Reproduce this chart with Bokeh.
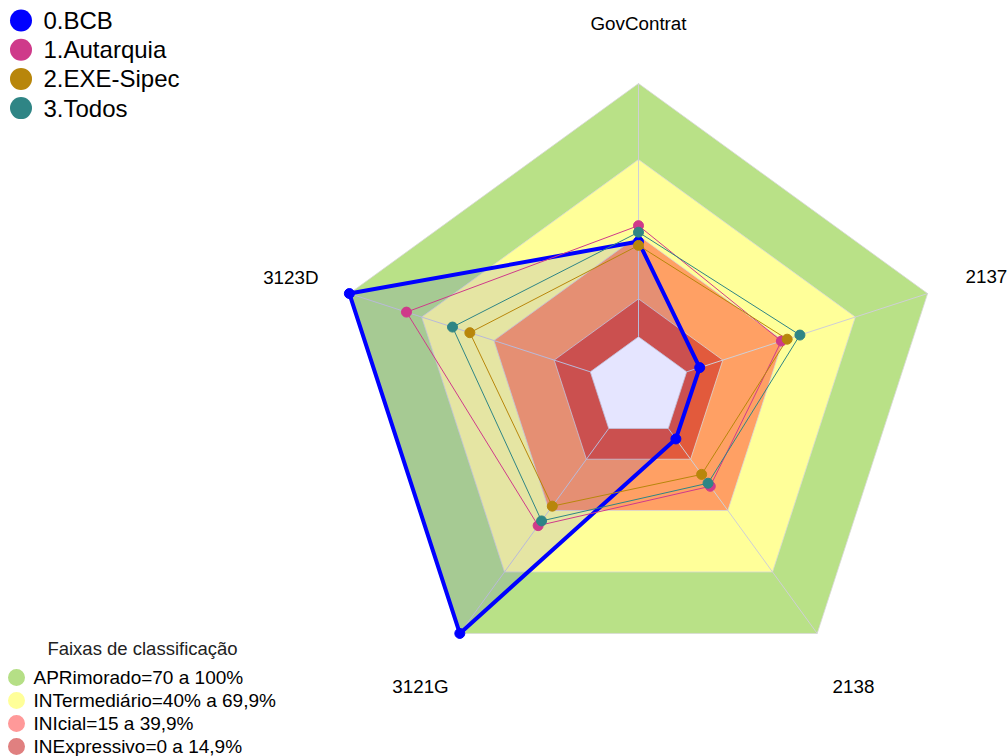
import numpy as np
from bokeh.plotting import figure
from bokeh.models import Range1d
from bokeh.embed import file_html
from bokeh.resources import INLINE
from bokeh.core.properties import value

# ---------------- data ----------------
axis_labels = ["GovContrat", "2137", "2138", "3121G", "3123D"]
series_names = ["0.BCB", "1.Autarquia", "2.EXE-Sipec", "3.Todos"]
bcb = [37.6, 5.4, 5.1, 100.0, 100.0]
autarquia = [43.9, 39.3, 28.2, 47.4, 76.3]
exe_sipec = [36.1, 41.7, 22.4, 37.9, 50.0]
todos = [41.3, 47.0, 26.7, 45.1, 57.2]
band_limits = [100, 70, 40, 15, 0]
band_labels = ["APRimorado=70 a 100%", "INTermediário=40% a 69,9%",
               "INIcial=15 a 39,9%", "INExpressivo=0 a 14,9%"]
legend_title = "Faixas de classificação"

# ---------------- styles ----------------
series_colors = ["#0000FF", "#CF3A8A", "#B8860B", "#2F8585"]
series_widths = [4, 1, 1, 1]
band_fill = ["#B9E187", "#FFFF99", "#FFA064", "#E25A3C", "#FFFFFF"]
band_legend_colors = ["#B5DF86", "#FFFF99", "#FF9999", "#E08080"]
FONT = value("Liberation Sans")

W, H = 1007, 756
S = 304.0          # pixels per unit radius
CX, CY = 638, 387  # centre in page pixels
R0 = 1.0 / 6.0     # inner hole fraction


def P(sx, sy):
    """page pixel -> data coords"""
    return (sx - CX) / S, (CY - sy) / S


n = len(axis_labels)
angles = np.deg2rad(90 - 72 * np.arange(n))


def radar_xy(vals):
    v = np.asarray(vals, dtype=float) / 100.0
    r = R0 + (1 - R0) * v
    return list(r * np.cos(angles)), list(r * np.sin(angles))


p = figure(width=W, height=H, output_backend="svg", toolbar_location=None,
           x_range=Range1d((0 - CX) / S, (W - CX) / S),
           y_range=Range1d((CY - H) / S, (CY - 0) / S),
           min_border=0, outline_line_color=None)
p.axis.visible = False
p.grid.visible = False
p.background_fill_color = "white"

# bands
for lim, col in zip(band_limits, band_fill):
    xs, ys = radar_xy([lim] * n)
    p.patch(xs, ys, fill_color=col, line_color=None)

# band borders
for lim in band_limits:
    xs, ys = radar_xy([lim] * n)
    p.line(xs + xs[:1], ys + ys[:1], line_color="#D8D8D8", line_width=1, line_alpha=0.8)

# spokes
for a in angles:
    p.line([R0 * np.cos(a), np.cos(a)], [R0 * np.sin(a), np.sin(a)],
           line_color="#CFCFD6", line_width=1)

# series
all_series = [bcb, autarquia, exe_sipec, todos]
for i, (vals, col, lw) in enumerate(zip(all_series, series_colors, series_widths)):
    xs, ys = radar_xy(vals)
    if i == 0:
        p.patch(xs, ys, fill_color="#0000FF", fill_alpha=0.1, line_color=None)
    p.line(xs + xs[:1], ys + ys[:1], line_color=col, line_width=lw)
for vals, col in zip(all_series, series_colors):
    xs, ys = radar_xy(vals)
    p.scatter(xs, ys, size=10, fill_color=col, line_color=col)

# axis labels (order: GovContrat, 2137, 2138, 3121G, 3123D)
lab_pos = [(638, 23, "center"), (965, 276, "left"), (853, 686, "center"),
           (420, 686, "center"), (318, 277, "right")]
for lab, (sx, sy, al) in zip(axis_labels, lab_pos):
    x, y = P(sx, sy)
    p.text([x], [y], text=[lab], text_font=FONT, text_font_size="18.8px",
           text_align=al, text_baseline="middle", text_color="black")

# series legend
for i, (name, col) in enumerate(zip(series_names, series_colors)):
    x, y = P(20.5, 20 + 29.2 * i)
    p.scatter([x], [y], size=22, fill_color=col, line_color=None)
    tx, ty = P(43, 20 + 29.2 * i)
    p.text([tx], [ty], text=[name], text_font=FONT, text_font_size="24px",
           text_align="left", text_baseline="middle", text_color="black")

# band legend
tx, ty = P(142, 648)
p.text([tx], [ty], text=[legend_title], text_font=FONT, text_font_size="18.5px",
       text_align="center", text_baseline="middle", text_color="#222222")
for i, (lab, col) in enumerate(zip(band_labels, band_legend_colors)):
    yy = 677 + 23 * i
    x, y = P(16, yy)
    p.scatter([x], [y], size=17, fill_color=col, line_color=None)
    tx, ty = P(33, yy)
    p.text([tx], [ty], text=[lab], text_font=FONT, text_font_size="19px",
           text_align="left", text_baseline="middle", text_color="black")

open("out.html", "w").write(file_html(p, INLINE))
